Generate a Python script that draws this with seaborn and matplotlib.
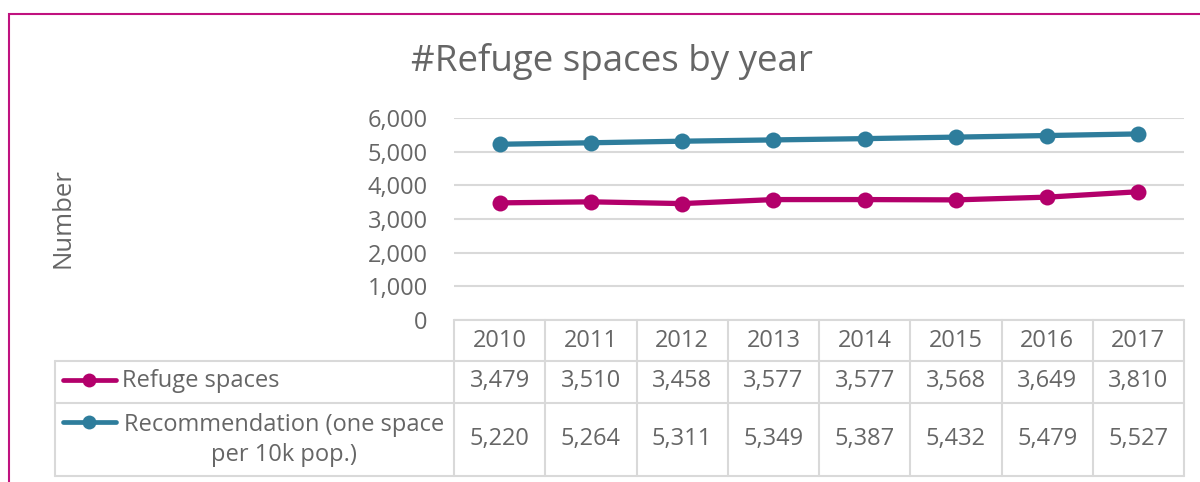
import pandas as pd
import numpy as np
import matplotlib.pyplot as plt
import matplotlib.transforms as mtransforms
from matplotlib.lines import Line2D
from matplotlib.patches import Rectangle
import seaborn as sns

# Data
years = ['2010', '2011', '2012', '2013', '2014', '2015', '2016', '2017']
refuge_spaces = [3479, 3510, 3458, 3577, 3577, 3568, 3649, 3810]
recommendation = [5220, 5264, 5311, 5349, 5387, 5432, 5479, 5527]
series_names = ['Refuge spaces', 'Recommendation (one space\nper 10k pop.)']
series_colors = ['#B3006B', '#2E7D9C']

sns.set_style('white')
plt.rcParams['font.family'] = ['Open Sans', 'DejaVu Sans']
text_col = '#666666'
grid_col = '#D9D9D9'
fs = 17

# long form table for seaborn
df = pd.DataFrame({
    'pos': list(range(len(years))) * 2,
    'value': refuge_spaces + recommendation,
    'series': [series_names[0]] * len(years) + [series_names[1]] * len(years),
})

W, H = 1200, 482
fig = plt.figure(figsize=(12, 4.82), dpi=100)

def fx(px):
    return px / W

def fy(py):
    return 1 - py / H

ax = fig.add_axes([fx(454), fy(320), fx(1184) - fx(454), fy(118) - fy(320)])

sns.lineplot(data=df, x='pos', y='value', hue='series', palette=series_colors,
             marker='o', markersize=11.5, markeredgewidth=0, linewidth=3.8,
             legend=False, ax=ax, zorder=3)

ax.set_xlim(-0.5, len(years) - 0.5)
ax.set_ylim(0, 6000)
ax.set_yticks(np.arange(0, 6001, 1000))
ax.yaxis.set_major_formatter(plt.FuncFormatter(lambda v, p: f'{v:,.0f}'))
ax.set_xticks([])
ax.set_xlabel('')
ax.set_ylabel('')
ax.tick_params(axis='y', length=0, pad=19, labelsize=fs, labelcolor=text_col)
ax.grid(axis='y', color=grid_col, linewidth=1.5)
ax.set_axisbelow(True)
for s in ax.spines.values():
    s.set_visible(False)

# title and axis title
fig.text(fx(612), fy(62), '#Refuge spaces by year', ha='center', va='center',
         fontsize=26.5, color=text_col)
fig.text(fx(63), fy(218), 'Number', ha='center', va='center', rotation=90,
         fontsize=18.5, color=text_col)

# data table under the plot
tr = mtransforms.blended_transform_factory(ax.transData, fig.transFigure)
y_head, y_r1, y_r2, y_bot = fy(320), fy(361), fy(403), fy(476)
lw = 1.5

for i in range(len(years) + 1):
    fig.add_artist(Line2D([i - 0.5, i - 0.5], [y_head, y_bot], transform=tr,
                          color=grid_col, lw=lw))
fig.add_artist(Line2D([-0.5, len(years) - 0.5], [y_head, y_head], transform=tr,
                      color=grid_col, lw=lw))
for yy in [y_r1, y_r2, y_bot]:
    fig.add_artist(Line2D([fx(55), fx(1184)], [yy, yy], transform=fig.transFigure,
                          color=grid_col, lw=lw))
fig.add_artist(Line2D([fx(55), fx(55)], [y_r1, y_bot], transform=fig.transFigure,
                      color=grid_col, lw=lw))

for i, yr in enumerate(years):
    fig.text(i, fy(341), yr, transform=tr, ha='center', va='center',
             fontsize=fs, color=text_col)
    fig.text(i, fy(381), f'{refuge_spaces[i]:,}', transform=tr, ha='center',
             va='center', fontsize=fs, color=text_col)
    fig.text(i, fy(439), f'{recommendation[i]:,}', transform=tr, ha='center',
             va='center', fontsize=fs, color=text_col)

# legend keys inside the table
key_y = [fy(380), fy(422)]
for name, col, ky in zip(series_names, series_colors, key_y):
    fig.add_artist(Line2D([fx(63), fx(116)], [ky, ky], transform=fig.transFigure,
                          color=col, lw=3.4, solid_capstyle='round'))
    fig.add_artist(Line2D([fx(89)], [ky], transform=fig.transFigure, color=col,
                          marker='o', markersize=10, markeredgewidth=0))
fig.text(fx(122), fy(381), series_names[0], ha='left', va='center',
         fontsize=fs, color=text_col)
fig.text(fx(284), fy(440), series_names[1], ha='center', va='center',
         fontsize=fs, color=text_col, multialignment='center', linespacing=1.38)

# magenta frame (runs off the right and bottom edges)
fig.add_artist(Rectangle((fx(9), fy(600)), fx(1300), fy(14) - fy(600),
                         transform=fig.transFigure, fill=False,
                         edgecolor='#C0127F', lw=1.5, clip_on=False))

fig.savefig('out.png', dpi=100)
